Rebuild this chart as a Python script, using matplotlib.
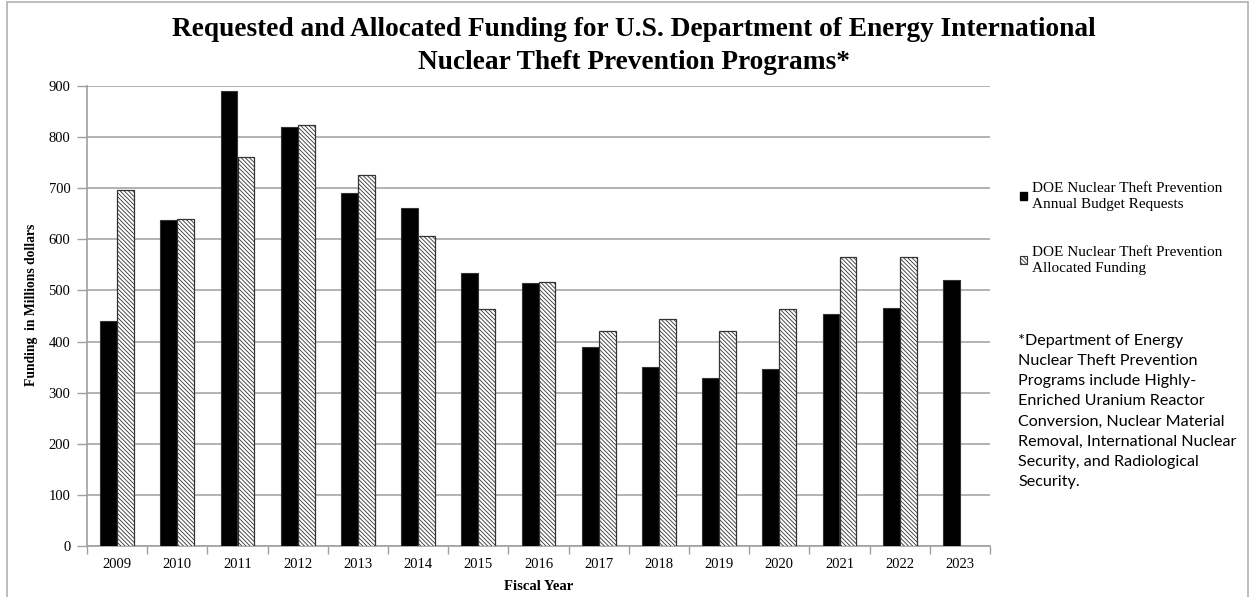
import numpy as np
import matplotlib
matplotlib.use("Agg")
import matplotlib.pyplot as plt
from matplotlib.patches import Patch, Rectangle

years = ["2009", "2010", "2011", "2012", "2013", "2014", "2015", "2016",
         "2017", "2018", "2019", "2020", "2021", "2022", "2023"]
requested = [441, 638, 890, 820, 690, 661, 534, 514, 389, 351, 328, 346, 453, 466, 521]
allocated = [696, 640, 761, 824, 725, 607, 463, 516, 420, 445, 420, 463, 566, 566, np.nan]
yticks = [0, 100, 200, 300, 400, 500, 600, 700, 800, 900]

title = ("Requested and Allocated Funding for U.S. Department of Energy International\n"
         "Nuclear Theft Prevention Programs*")
label_req = "DOE Nuclear Theft Prevention\nAnnual Budget Requests"
label_alloc = "DOE Nuclear Theft Prevention\nAllocated Funding"
footnote = ("*Department of Energy\nNuclear Theft Prevention\nPrograms include Highly-\n"
            "Enriched Uranium Reactor\nConversion, Nuclear Material\nRemoval, International Nuclear\n"
            "Security, and Radiological\nSecurity.")

serif = "Liberation Serif"
plt.rcParams["hatch.linewidth"] = 0.6
HATCH = "\\" * 8

fig = plt.figure(figsize=(12.5, 5.97), dpi=100)
ax = fig.add_axes([87 / 1250, 1 - 546 / 597, (990 - 87) / 1250, (546 - 86) / 597])

x = np.arange(len(years))
w = 0.28
ax.bar(x - w / 2, requested, width=w, color="black", edgecolor="#333333", linewidth=0.8,
       zorder=3)
ax.bar(x + w / 2, allocated, width=w, color="white", edgecolor="#333333", linewidth=0.9,
       hatch=HATCH, zorder=3)

ax.set_xlim(-0.5, len(years) - 0.5)
ax.set_ylim(0, 900)
ax.set_yticks(yticks)
ax.set_yticklabels([str(t) for t in yticks], fontfamily=serif, fontsize=10.5)
ax.set_xticks(x)
ax.set_xticklabels(years, fontfamily=serif, fontsize=10.5)
ax.tick_params(axis="x", length=0, pad=9)
ax.set_xticks(np.arange(-0.5, len(years)), minor=True)
ax.tick_params(axis="x", which="minor", length=6, color="#a0a0a0", width=1)
ax.tick_params(axis="y", length=7, color="#a0a0a0", width=1, pad=5)
ax.grid(axis="y", color="#a6a6a6", linewidth=1.2, zorder=0)
ax.set_axisbelow(True)
for s in ["top", "right"]:
    ax.spines[s].set_visible(False)
for s in ["left", "bottom"]:
    ax.spines[s].set_color("#a0a0a0")
    ax.spines[s].set_linewidth(1.2)

ax.set_ylabel("Funding  in Millions dollars", fontfamily=serif, fontweight="bold",
              fontsize=9.8, va="center")
ax.yaxis.set_label_coords((32 - 87) / 903, (546 - 305) / 460)
ax.set_xlabel("Fiscal Year", fontfamily=serif, fontweight="bold", fontsize=10.5, labelpad=6)

fig.text(634 / 1250, 1 - 46 / 597, title, ha="center", va="center", fontfamily=serif,
         fontweight="bold", fontsize=19.7, linespacing=1.37)

handles = [Patch(facecolor="black", edgecolor="black"),
           Patch(facecolor="white", edgecolor="#333333", hatch=HATCH, linewidth=0.8)]
leg = fig.legend(handles, [label_req, label_alloc], loc="upper left",
                 bbox_to_anchor=(1014 / 1250, 1 - 176 / 597), frameon=False,
                 prop={"family": serif, "size": 11.0}, handlelength=0.45, handleheight=0.45,
                 handletextpad=0.35, labelspacing=2.3, borderaxespad=0)
for t in leg.get_texts():
    t.set_linespacing(1.3)

fig.text(1018 / 1250, 1 - 334 / 597, footnote, ha="left", va="top", fontfamily="Lato",
         fontsize=11.6, linespacing=1.56)

fig.patches.append(Rectangle((7 / 1250, -0.01), 1241 / 1250, 1 - 2 / 597 + 0.01,
                             transform=fig.transFigure, fill=False, edgecolor="#b0b0b0",
                             linewidth=1.2))

fig.savefig("out.png", dpi=100)
